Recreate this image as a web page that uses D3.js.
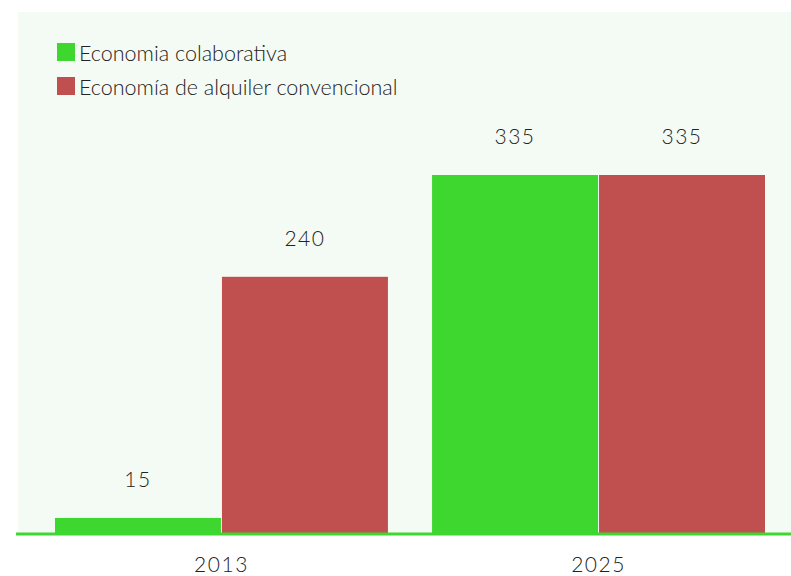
<!DOCTYPE html>
<html>
<head>
<meta charset="utf-8">
<script src="https://cdn.jsdelivr.net/npm/d3@7"></script>
<style>
  body { margin: 0; background: #fff; }
  text { font-family: Lato, "Open Sans", sans-serif; font-weight: 300; fill: #222; }
</style>
</head>
<body>
<svg id="chart" width="791" height="576"></svg>
<script>
// data
var years = ["2013", "2025"];
var seriesNames = ["Economia colaborativa", "Economía de alquiler convencional"];
var colaborativa = [15, 335];
var convencional = [240, 335];
var seriesColors = ["#3dd730", "#c0504f"];

var W = 791, H = 576;
var svg = d3.select("#chart");

// panel (light green area)
var panel = {left: 18, top: 12, right: 791, bottom: 534};
svg.append("rect")
    .attr("x", panel.left).attr("y", panel.top)
    .attr("width", panel.right - panel.left)
    .attr("height", panel.bottom - panel.top)
    .style("fill", "#f4fbf4");

var rows = years.map(function(y, i){
    return {year: y, vals: [colaborativa[i], convencional[i]]};
});

var x0 = d3.scaleBand().domain(years).range([55, 765]).paddingInner(0.117).paddingOuter(0);
var x1 = d3.scaleBand().domain([0, 1]).range([0, x0.bandwidth()]).paddingInner(0.006);
var y = d3.scaleLinear().domain([0, 335]).range([panel.bottom, 175]);

var groups = svg.selectAll("g.year").data(rows).enter().append("g")
    .attr("class", "year")
    .attr("transform", function(d){ return "translate(" + x0(d.year) + ",0)"; });

var bars = groups.selectAll("g.bar").data(function(d){
    return d.vals.map(function(v, k){ return {v: v, k: k}; });
}).enter().append("g").attr("class", "bar");

bars.append("rect")
    .attr("x", function(d){ return x1(d.k); })
    .attr("y", function(d){ return y(d.v); })
    .attr("width", x1.bandwidth())
    .attr("height", function(d){ return y(0) - y(d.v); })
    .style("fill", function(d){ return seriesColors[d.k]; });

bars.append("text")
    .attr("x", function(d){ return x1(d.k) + x1.bandwidth() / 2; })
    .attr("y", function(d){ return y(d.v) - 31; })
    .attr("text-anchor", "middle")
    .style("font-size", "21px")
    .style("letter-spacing", "1.5px")
    .text(function(d){ return d.v; });

// x axis: green baseline + year labels
var xAxis = svg.append("g").attr("transform", "translate(0," + panel.bottom + ")")
    .call(d3.axisBottom(x0).tickSize(0).tickPadding(23));
xAxis.select(".domain").remove();
xAxis.append("line")
    .attr("x1", 16).attr("x2", W).attr("y1", 0).attr("y2", 0)
    .style("stroke", seriesColors[0]).style("stroke-width", 3);
xAxis.selectAll(".tick text")
    .attr("font-family", null)
    .style("font-size", "21px")
    .style("letter-spacing", "1.5px")
    .style("fill", "#222");

// legend
var legend = svg.append("g").attr("transform", "translate(57,43)");
var li = legend.selectAll("g").data(seriesNames).enter().append("g")
    .attr("transform", function(d, i){ return "translate(0," + (i * 34) + ")"; });
li.append("rect").attr("width", 18).attr("height", 18)
    .style("fill", function(d, i){ return seriesColors[i]; });
li.append("text").attr("x", 22).attr("y", 18)
    .style("font-size", "21.5px")
    .text(function(d){ return d; });
</script>
</body>
</html>
